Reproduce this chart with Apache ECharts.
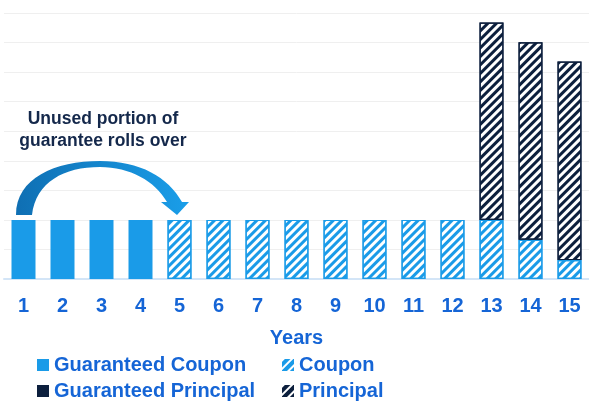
<!DOCTYPE html>
<html><head><meta charset="utf-8">
<script src="https://cdn.jsdelivr.net/npm/echarts@6/dist/echarts.min.js"></script>
<style>html,body{margin:0;padding:0;background:#fff}#c{width:589px;height:401px}</style>
</head><body><div id="c"></div>
<script>
const years = ['1','2','3','4','5','6','7','8','9','10','11','12','13','14','15'];
const guaranteedCoupon = [2,2,2,2,'-','-','-','-','-','-','-','-','-','-','-'];
const coupon = ['-','-','-','-',2,2,2,2,2,2,2,2,2,1.33,0.64];
const guaranteedPrincipal = ['-','-','-','-','-','-','-','-','-','-','-','-','-','-','-'];
const principal = ['-','-','-','-','-','-','-','-','-','-','-','-',6.68,6.68,6.72];
const annotation = 'Unused portion of\nguarantee rolls over';

const BLUE = '#1a9be8', NAVY = '#0c1f3d', TXT = '#1565d6';
const FONT = 'Liberation Sans, Arial, sans-serif';
function stripe(color, a, b){ return {symbol:'rect', symbolSize:1, dashArrayX:[1,0], dashArrayY:[a,b], rotation:-Math.PI/4, color:color}; }

const arrowPath = 'M16 215 C16 178 55 161 100 161 C140 161 168 177 182 202 L189 202 L177 215 L161 202 L167 202 C155 181 130 167 100 167 C64 167 36 182 32 215 Z';
echarts.graphic.registerShape('curvedArrow', echarts.graphic.extendPath(arrowPath, {}));

const chart = echarts.init(document.getElementById('c'));
const legendText = {fontFamily:FONT, fontWeight:'bold', fontSize:20, color:TXT};
chart.setOption({
  animation:false,
  grid:{left:4, width:590, top:13, bottom:122},
  xAxis:{type:'category', data:years,
    axisLine:{lineStyle:{color:'#d3e5f7', width:2}}, axisTick:{show:false},
    axisLabel:{fontFamily:FONT, fontWeight:'bold', fontSize:20, color:TXT, margin:17, interval:0},
    name:'Years', nameLocation:'middle', nameGap:49,
    nameTextStyle:{fontFamily:FONT, fontWeight:'bold', fontSize:20, color:TXT}},
  yAxis:{type:'value', min:0, max:9, interval:1, axisLabel:{show:false}, axisLine:{show:false}, axisTick:{show:false},
    splitLine:{lineStyle:{color:'#efefef', width:1}}},
  legend:[
    {data:[{name:'Guaranteed Coupon'},{name:'Guaranteed Principal'}], orient:'vertical', left:37, top:355,
     itemWidth:12, itemHeight:12, itemGap:6, icon:'rect', textStyle:legendText, padding:0},
    {data:[{name:'Coupon', itemStyle:{color:BLUE, borderWidth:0, decal:stripe('#ffffff',2,4)}},
           {name:'Principal', itemStyle:{color:NAVY, borderWidth:0, decal:stripe('#ffffff',2,4)}}],
     orient:'vertical', left:282, top:355,
     itemWidth:12, itemHeight:12, itemGap:6, icon:'rect', textStyle:legendText, padding:0}
  ],
  series:[
    {name:'Guaranteed Coupon', type:'bar', stack:'a', data:guaranteedCoupon, barWidth:24,
     itemStyle:{color:BLUE}},
    {name:'Coupon', type:'bar', stack:'a', data:coupon, barWidth:24,
     itemStyle:{color:'#ffffff', borderColor:BLUE, borderWidth:1.2, decal:stripe(BLUE,3,3)}},
    {name:'Guaranteed Principal', type:'bar', stack:'a', data:guaranteedPrincipal, barWidth:24,
     itemStyle:{color:NAVY}},
    {name:'Principal', type:'bar', stack:'a', data:principal, barWidth:24,
     itemStyle:{color:'#ffffff', borderColor:NAVY, borderWidth:1.2, decal:stripe(NAVY,3,3)}}
  ],
  graphic:[
    {type:'curvedArrow', z:10,
     style:{fill:new echarts.graphic.LinearGradient(0,0,1,0,[{offset:0,color:'#0f6fb3'},{offset:1,color:'#1a9ee9'}])}},
    {type:'text', z:10, x:103, y:108, style:{text:annotation, textAlign:'center', fill:'#14284b',
      font:'bold 17.5px ' + FONT, lineHeight:22}}
  ]
});
</script></body></html>
